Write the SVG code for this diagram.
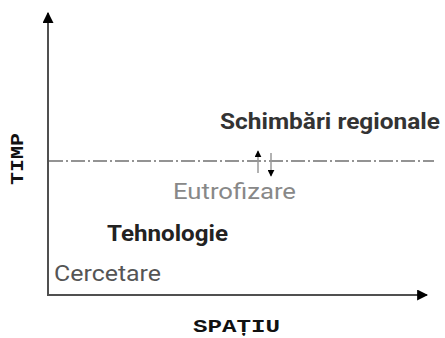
<svg xmlns="http://www.w3.org/2000/svg" width="445" height="338" viewBox="0 0 445 338">
<style>
.axis{stroke:#505050;stroke-width:2;fill:none}
.lbl{font-family:Roboto,"Liberation Sans",Arial,sans-serif;font-size:22px}
.mono{font-family:"Courier New","Liberation Mono",monospace;font-weight:bold;font-size:19px;fill:#111}
</style>
<defs>
<marker id="ah" viewBox="0 0 10 10" refX="9" refY="5" markerWidth="11" markerHeight="11" orient="auto" markerUnits="userSpaceOnUse">
<path d="M0,0 L10,5 L0,10 z" fill="#000"/>
</marker>
<marker id="ahs" viewBox="0 0 10 10" refX="9" refY="5" markerWidth="7" markerHeight="7" orient="auto" markerUnits="userSpaceOnUse">
<path d="M0,0 L10,5 L0,10 z" fill="#000"/>
</marker>
</defs>
<g id="connectors">
<line class="axis" x1="48" y1="296" x2="48" y2="13" style="marker-end:url(#ah)"/>
<line class="axis" x1="47" y1="295" x2="427" y2="295" style="marker-end:url(#ah)"/>
<line x1="49" y1="161" x2="434" y2="161" stroke="#707070" stroke-width="1.3" stroke-dasharray="14,3,2,3"/>
<line x1="258" y1="173" x2="258" y2="151" stroke="#999" stroke-width="1.5" marker-end="url(#ahs)"/>
<line x1="271" y1="153" x2="271" y2="176" stroke="#999" stroke-width="1.5" marker-end="url(#ahs)"/>
</g>
<g id="axis-labels">
<text class="mono" x="193" y="332" textLength="87" lengthAdjust="spacingAndGlyphs">SPAȚIU</text>
<text class="mono" transform="translate(23,185) rotate(-90)" x="0" y="0" textLength="52" lengthAdjust="spacingAndGlyphs">TIMP</text>
</g>
<g id="schimbari">
<text class="lbl" x="220" y="129" font-weight="bold" fill="#333" textLength="220" lengthAdjust="spacingAndGlyphs">Schimbări regionale</text>
</g>
<g id="eutrofizare">
<text class="lbl" x="173" y="199" fill="#888" textLength="123" lengthAdjust="spacingAndGlyphs">Eutrofizare</text>
</g>
<g id="tehnologie">
<text class="lbl" x="107" y="241" font-weight="bold" fill="#222" textLength="121" lengthAdjust="spacingAndGlyphs">Tehnologie</text>
</g>
<g id="cercetare">
<text class="lbl" x="54" y="281" fill="#555" textLength="107" lengthAdjust="spacingAndGlyphs">Cercetare</text>
</g>
</svg>
